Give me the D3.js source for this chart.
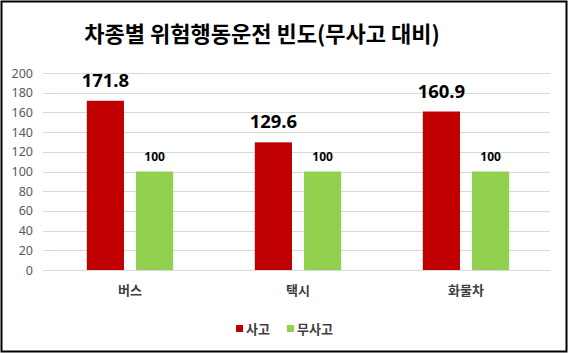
<!DOCTYPE html>
<html>
<head>
<meta charset="utf-8">
<script src="https://cdn.jsdelivr.net/npm/d3@7"></script>
<style>
  body { margin: 0; background: #fff; }
  svg { display: block; font-family: "Noto Sans CJK KR", "Noto Sans", sans-serif; }
</style>
</head>
<body>
<svg width="568" height="353"></svg>
<script>
const categories = ['버스', '택시', '화물차'];
const seriesNames = ['사고', '무사고'];
const accident = [171.8, 129.6, 160.9];
const noAccident = [100, 100, 100];
const yTicks = [0, 20, 40, 60, 80, 100, 120, 140, 160, 180, 200];
const colors = ['#C00000', '#92D050'];

const svg = d3.select('svg');
const width  = +svg.attr('width');
const height = +svg.attr('height');

// outer frame
svg.append('rect')
    .attr('x', 1.5).attr('y', 1.5)
    .attr('width', width - 3).attr('height', height - 3)
    .attr('fill', '#fff')
    .attr('stroke', '#000')
    .attr('stroke-width', 2);

// title
svg.append('text')
    .attr('x', 262).attr('y', 42)
    .attr('text-anchor', 'middle')
    .attr('font-size', 22)
    .attr('font-weight', 'bold')
    .attr('fill', '#000')
    .text('차종별 위험행동운전 빈도(무사고 대비)');

const margin = {left: 43, right: 18, top: 73, bottom: 83};
const x = d3.scaleBand()
    .domain(categories)
    .range([46, 550]);
const x1 = d3.scaleBand()
    .domain(seriesNames)
    .range([0, x.bandwidth()])
    .paddingInner(0.245)
    .paddingOuter(0.83);
const y = d3.scaleLinear()
    .domain([0, 200])
    .range([height - margin.bottom, margin.top]);

// gridlines
svg.append('g')
    .selectAll('line').data(yTicks)
    .enter().append('line')
      .attr('x1', margin.left).attr('x2', width - margin.right)
      .attr('y1', d => Math.round(y(d)) + 0.5)
      .attr('y2', d => Math.round(y(d)) + 0.5)
      .attr('stroke', '#D9D9D9');

// y axis labels
const yAxis = svg.append('g')
    .attr('transform', `translate(${margin.left - 10},0)`)
    .call(d3.axisLeft(y).tickValues(yTicks).tickSize(0).tickPadding(0));
yAxis.select('.domain').remove();
yAxis.selectAll('text')
    .attr('font-size', 12.5)
    .attr('fill', '#595959')
    .attr('font-family', '"Noto Sans", sans-serif');

// x axis labels
const xAxis = svg.append('g')
    .attr('transform', `translate(0,${height - margin.bottom})`)
    .call(d3.axisBottom(x).tickSize(0).tickPadding(16));
xAxis.select('.domain').remove();
xAxis.selectAll('text')
    .attr('font-size', 13)
    .attr('font-weight', 'bold')
    .attr('fill', '#404040')
    .attr('font-family', '"Noto Sans CJK KR", sans-serif');

// bars
const rows = categories.map((c, i) => ({
  cat: c,
  vals: [{s: seriesNames[0], v: accident[i]}, {s: seriesNames[1], v: noAccident[i]}]
}));

const groups = svg.append('g')
  .selectAll('g').data(rows)
  .enter().append('g')
    .attr('transform', d => `translate(${x(d.cat)},0)`);

groups.selectAll('rect').data(d => d.vals)
  .enter().append('rect')
    .attr('x', d => x1(d.s))
    .attr('width', x1.bandwidth())
    .attr('y', d => y(d.v))
    .attr('height', d => y(0) - y(d.v))
    .attr('fill', (d, i) => colors[i]);

groups.selectAll('text.val').data(d => d.vals)
  .enter().append('text')
    .attr('class', 'val')
    .attr('x', d => x1(d.s) + x1.bandwidth() / 2)
    .attr('y', (d, i) => y(d.v) - (i === 0 ? 14 : 11))
    .attr('text-anchor', 'middle')
    .attr('font-weight', 'bold')
    .attr('font-size', (d, i) => i === 0 ? 18.5 : 12)
    .attr('fill', '#000')
    .attr('font-family', '"Noto Sans", sans-serif')
    .text(d => d.v);

// legend
const legend = svg.append('g')
  .selectAll('g').data(seriesNames)
  .enter().append('g')
    .attr('transform', (d, i) => `translate(${236 + i * 51},329)`);
legend.append('rect')
    .attr('x', 0).attr('y', -4)
    .attr('width', 7).attr('height', 7)
    .attr('fill', (d, i) => colors[i]);
legend.append('text')
    .attr('x', 10).attr('y', 5)
    .attr('font-size', 13)
    .attr('font-weight', 'bold')
    .attr('fill', '#404040')
    .text(d => d);
</script>
</body>
</html>
